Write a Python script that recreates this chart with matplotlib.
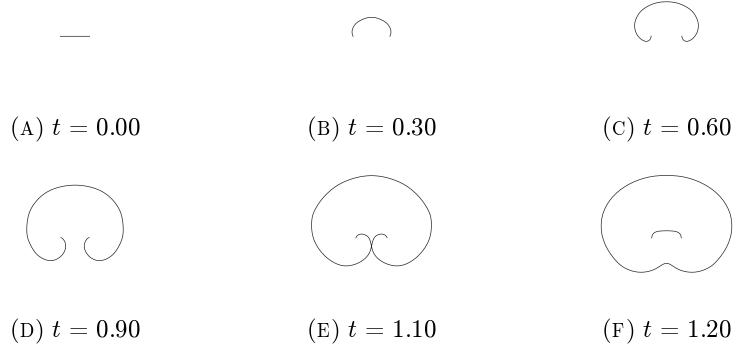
import numpy as np
import matplotlib
matplotlib.use("Agg")
import matplotlib.pyplot as plt
from matplotlib.path import Path
from matplotlib.patches import PathPatch
from matplotlib.offsetbox import TextArea, HPacker, AnnotationBbox

plt.rcParams['mathtext.fontset'] = 'cm'

## curve snapshots, one per time step; each is half of a mirror-symmetric
## curve, listed from the symmetry axis outwards (x right, y up)
times = [0.00, 0.30, 0.60, 0.90, 1.10, 1.20]
letters = ['A', 'B', 'C', 'D', 'E', 'F']

half_a_x = [0.0, -15.0]
half_a_y = [-36.3, -36.3]

half_b_x = [0.0, -4.0, -8.2, -12.0, -14.8, -17.2, -18.8, -19.5, -19.4, -18.9, -18.2]
half_b_y = [-17.3, -17.6, -19.0, -20.8, -22.7, -25.3, -28.3, -31.0, -33.5, -35.5, -36.7]

half_c_x = [0.0, -6.0, -12.0, -18.0, -23.7, -27.3, -30.0, -31.6, -32.0, -31.4, -29.8,
            -27.3, -24.2, -21.0, -18.5, -16.5, -15.5, -15.3]
half_c_y = [-1.7, -2.0, -3.3, -5.7, -9.3, -13.0, -17.5, -22.0, -26.0, -30.5, -34.3,
            -37.7, -40.2, -41.5, -41.2, -39.7, -37.7, -35.8]

half_d_x = [0.0, -7.4, -14.4, -21.4, -27.7, -33.9, -39.4, -43.4, -46.1, -47.8, -48.4,
            -47.8, -46.1, -43.1, -39.4, -35.4, -31.1, -26.9, -22.7, -18.6, -15.1,
            -12.1, -10.1, -9.2, -9.4, -10.3, -11.7, -13.1, -14.4]
half_d_y = [-10.0, -10.5, -11.7, -13.8, -16.7, -21.0, -26.7, -32.5, -38.3, -46.0, -55.0,
            -61.5, -66.7, -72.8, -78.3, -81.8, -84.3, -85.5, -85.7, -84.5, -82.3,
            -79.3, -75.7, -72.3, -69.0, -66.3, -64.3, -63.0, -62.3]

half_e_x = [0.0, -8.0, -16.0, -24.5, -32.7, -40.5, -47.7, -53.3, -57.7, -59.6, -60.0,
            -59.6, -57.7, -54.0, -49.3, -44.5, -39.3, -33.5, -27.7, -21.8, -16.0,
            -10.5, -6.0, -3.0, -1.2, -0.1, 0.7, 1.7, 3.3, 5.7, 8.0, 10.0, 12.2,
            14.2, 15.4, 15.7]
half_e_y = [-0.5, -1.1, -2.7, -5.5, -9.3, -14.8, -21.7, -29.0, -36.7, -43.0, -50.0,
            -57.5, -65.0, -72.2, -78.3, -83.0, -86.7, -89.6, -91.0, -90.8, -89.3,
            -86.7, -83.3, -79.7, -76.0, -72.0, -68.0, -64.5, -61.8, -60.1, -59.2,
            -59.0, -59.3, -60.5, -62.0, -63.2]

half_f_x = [0.0, -12.0, -22.4, -32.7, -42.1, -50.2, -56.7, -61.5, -64.5, -65.5,
            -65.0, -63.2, -60.3, -56.5, -51.8, -46.5, -40.8, -34.8, -29.0, -23.2,
            -18.0, -13.2, -8.8, -4.8, -2.2, 0.0]
half_f_y = [-0.3, -0.9, -3.0, -6.7, -11.7, -17.9, -25.0, -32.9, -41.3, -50.0,
            -58.0, -65.0, -72.0, -78.3, -84.5, -90.0, -93.6, -96.0, -97.2, -97.3,
            -96.5, -95.0, -92.7, -90.0, -88.6, -88.3]

# detached piece that appears after the ends pinch off
inner_f_x = [0.0, -6.5, -9.5, -11.5, -13.2, -14.2, -14.7, -14.8]
inner_f_y = [-55.7, -56.0, -56.5, -57.3, -58.5, -60.0, -61.8, -63.3]

curves = [
    [(half_a_x, half_a_y)],
    [(half_b_x, half_b_y)],
    [(half_c_x, half_c_y)],
    [(half_d_x, half_d_y)],
    [(half_e_x, half_e_y)],
    [(half_f_x, half_f_y), (inner_f_x, inner_f_y)],
]


def mirror(hx, hy):
    '''
    Builds the full symmetric curve from one half.
    '''
    hx = np.asarray(hx)
    hy = np.asarray(hy)
    x = np.concatenate([hx[::-1], -hx[1:]])
    y = np.concatenate([hy[::-1], hy[1:]])
    return x, y


def smooth_path(x, y):
    '''
    Quadratic B-spline path: the points are control points, the curve
    runs through the midpoints between them.
    '''
    pts = np.column_stack([x, y])
    if len(pts) < 3:
        return Path(pts)
    verts = [pts[0]]
    codes = [Path.MOVETO]
    for i in range(1, len(pts) - 1):
        end = pts[i + 1] if i == len(pts) - 2 else 0.5 * (pts[i] + pts[i + 1])
        verts += [pts[i], end]
        codes += [Path.CURVE3, Path.CURVE3]
    return Path(verts, codes)


W, H = 735, 349
fig = plt.figure(figsize=(W / 100, H / 100), dpi=100)

col_centers = [75.0, 371.5, 666.5]
row_tops = [0.0, 175.0]
label_y = [129.0, 331.0]
half_w, box_h = 120.0, 100.0

for k in range(6):
    r, c = divmod(k, 3)
    cx = col_centers[c]
    ax = fig.add_axes([(cx - half_w) / W, 1 - (row_tops[r] + box_h) / H,
                       2 * half_w / W, box_h / H])
    ax.set_xlim(-half_w, half_w)
    ax.set_ylim(-box_h, 0)
    ax.axis('off')
    for hx, hy in curves[k]:
        x, y = mirror(hx, hy)
        ax.add_patch(PathPatch(smooth_path(x, y), fill=False, lw=0.5,
                               edgecolor='#222222', clip_on=False))

    # subcaption: "(X) t = ..." with the letter in small caps
    parts = [TextArea('$($', textprops=dict(fontsize=18)),
             TextArea(r'$\mathrm{%s}$' % letters[k], textprops=dict(fontsize=13.5)),
             TextArea(r'$)\ t\,=\,%.2f$' % times[k], textprops=dict(fontsize=18))]
    box = HPacker(children=parts, align='baseline', pad=0, sep=0)
    ab = AnnotationBbox(box, (cx / W, 1 - label_y[r] / H), xycoords='figure fraction',
                        frameon=False, box_alignment=(0.5, 0.5), pad=0)
    fig.add_artist(ab)

fig.savefig('out.png', dpi=100)
